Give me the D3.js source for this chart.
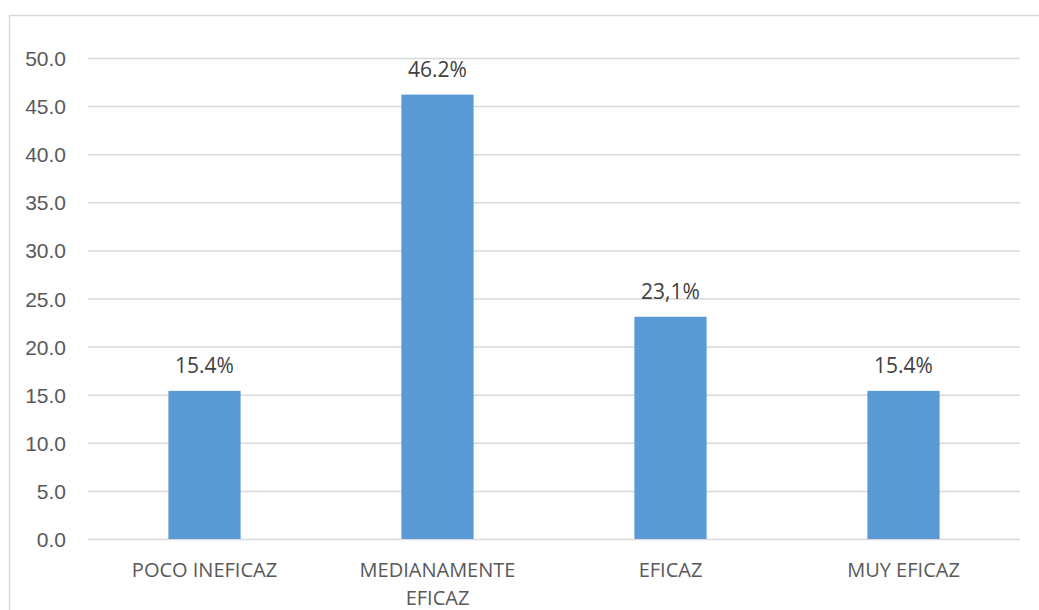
<!DOCTYPE html>
<html>
<head>
<meta charset="utf-8">
<script src="https://cdn.jsdelivr.net/npm/d3@7"></script>
<style>
  html, body { margin: 0; padding: 0; background: #fff; }
  svg { display: block; font-family: "Open Sans", "Noto Sans", sans-serif; }
</style>
</head>
<body>
<svg id="chart" width="1039" height="610"></svg>
<script>
// Chart data
const categories = ["POCO INEFICAZ", "MEDIANAMENTE EFICAZ", "EFICAZ", "MUY EFICAZ"];
const values = [15.4, 46.2, 23.1, 15.4];
const valueLabels = ["15.4%", "46.2%", "23,1%", "15.4%"];
const yTicks = [0, 5, 10, 15, 20, 25, 30, 35, 40, 45, 50];

const svg = d3.select("#chart");
const W = 1039, H = 610;
const margin = { left: 88, right: 19, top: 58, bottom: 71 };

// Outer frame of the chart area
svg.append("rect")
  .attr("x", 9.5).attr("y", 15.5)
  .attr("width", W + 20).attr("height", H + 20)
  .attr("fill", "none").attr("stroke", "#d9d9d9").attr("stroke-width", 1.5);

const x = d3.scaleBand()
  .domain(categories)
  .range([margin.left, W - margin.right])
  .paddingInner(0.69).paddingOuter(0.345);

const y = d3.scaleLinear()
  .domain([0, 50])
  .range([H - margin.bottom, margin.top]);

// Horizontal gridlines with tick labels
const yAxis = d3.axisLeft(y)
  .tickValues(yTicks)
  .tickSize(-(W - margin.left - margin.right))
  .tickPadding(22)
  .tickFormat(d3.format(".1f"));

const gy = svg.append("g")
  .attr("transform", `translate(${margin.left},0)`)
  .call(yAxis);
gy.select(".domain").remove();
gy.selectAll(".tick line").attr("stroke", "#d9d9d9").attr("stroke-width", 1.5);
gy.selectAll(".tick text")
  .attr("fill", "#595959")
  .style("font-size", "21px")
  .attr("dy", "0.36em");

// Bars
svg.append("g").selectAll("rect")
  .data(values)
  .join("rect")
  .attr("x", (d, i) => x(categories[i]))
  .attr("y", d => y(d))
  .attr("width", x.bandwidth())
  .attr("height", d => y(0) - y(d))
  .attr("fill", "#5b9bd5");

// Value labels above bars
svg.append("g").selectAll("text")
  .data(values)
  .join("text")
  .attr("x", (d, i) => x(categories[i]) + x.bandwidth() / 2)
  .attr("y", d => y(d) - 18)
  .attr("text-anchor", "middle")
  .attr("fill", "#404040")
  .style("font-size", "21px")
  .text((d, i) => valueLabels[i]);

// Category labels, wrapped to fit within each band
const maxLabelWidth = 180;
const xLabels = svg.append("g").selectAll("text")
  .data(categories)
  .join("text")
  .attr("x", d => x(d) + x.bandwidth() / 2)
  .attr("y", 577)
  .attr("text-anchor", "middle")
  .attr("fill", "#595959")
  .style("font-size", "20px");

xLabels.each(function(d) {
  const t = d3.select(this);
  const words = d.split(" ");
  const lines = [];
  let line = [];
  const probe = t.append("tspan");
  words.forEach(w => {
    const attempt = line.concat(w).join(" ");
    probe.text(attempt);
    if (probe.node().getComputedTextLength() > maxLabelWidth && line.length) {
      lines.push(line.join(" "));
      line = [w];
    } else {
      line.push(w);
    }
  });
  lines.push(line.join(" "));
  probe.remove();
  lines.forEach((l, i) => {
    t.append("tspan")
      .attr("x", t.attr("x"))
      .attr("dy", i === 0 ? 0 : 28)
      .text(l);
  });
});
</script>
</body>
</html>
